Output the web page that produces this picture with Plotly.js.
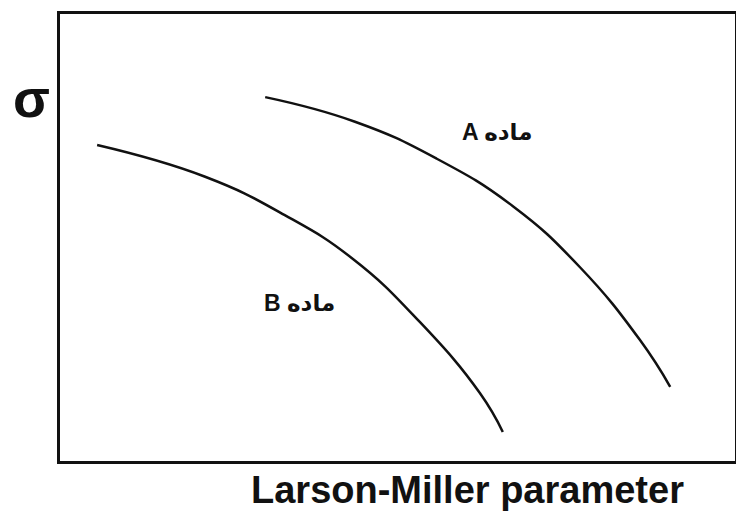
<!DOCTYPE html>
<html>
  <head>
    <title>Larson-Miller</title>
    <meta http-equiv="content-type" content="text/html; charset=utf-8" />
    <style>
      body {
        margin: 0;
        background-color: #FFFFFF;
      }
    </style>
    <script src="https://cdn.plot.ly/plotly-3.0.1.min.js"></script>
  </head>
  <body>
    <div id="chart" style="width:736px;height:520px;"></div>
    <script>
      // curve values (arbitrary units, 0-100)
      var aX = [30.4, 43.7, 55.6, 67.1, 77.0, 85.9, 90.4];
      var aY = [81.4, 75.9, 67.8, 57.0, 43.4, 27.1, 16.6];
      var bX = [5.5, 21.5, 33.3, 43.4, 53.3, 62.2, 65.6];
      var bY = [70.7, 63.6, 55.0, 45.2, 31.1, 15.2, 6.5];

      var labelA = 'A ماده';
      var labelB = 'B ماده';
      var xTitle = 'Larson-Miller parameter';
      var yTitle = 'σ';

      var lineStyle = {color: '#111111', width: 2.5, shape: 'spline', smoothing: 1.3};

      var sets = [
        {name: 'A', x: aX, y: aY, type: 'scatter', mode: 'lines', line: lineStyle},
        {name: 'B', x: bX, y: bY, type: 'scatter', mode: 'lines', line: lineStyle}
      ];

      var axisStyle = {
        range: [0, 100],
        showline: true,
        mirror: true,
        linewidth: 3,
        linecolor: '#111111',
        showgrid: false,
        zeroline: false,
        showticklabels: false,
        ticks: ''
      };

      var font = 'Liberation Sans, Arial, DejaVu Sans, sans-serif';

      var options = {
        width: 736,
        height: 520,
        margin: {l: 60, r: 1, t: 14, b: 59},
        paper_bgcolor: '#FFFFFF',
        plot_bgcolor: '#FFFFFF',
        showlegend: false,
        xaxis: axisStyle,
        yaxis: Object.assign({}, axisStyle),
        annotations: [
          {x: 64.7, y: 73.6, xref: 'x', yref: 'y', text: '<b>' + labelA + '</b>', showarrow: false,
           font: {family: font, size: 23, color: '#111111'}},
          {x: 35.5, y: 35.3, xref: 'x', yref: 'y', text: '<b>' + labelB + '</b>', showarrow: false,
           font: {family: font, size: 23, color: '#111111'}},
          {x: -0.073, y: 0.883, xref: 'paper', yref: 'paper', text: '<b>' + yTitle + '</b>', showarrow: false,
           font: {family: font, size: 54, color: '#111111'}},
          {x: 0.603, y: -0.065, xref: 'paper', yref: 'paper', text: '<b>' + xTitle + '</b>', showarrow: false,
           yanchor: 'middle', font: {family: font, size: 38, color: '#111111'}}
        ]
      };

      Plotly.newPlot('chart', sets, options, {displayModeBar: false, staticPlot: true});
    </script>
  </body>
</html>
